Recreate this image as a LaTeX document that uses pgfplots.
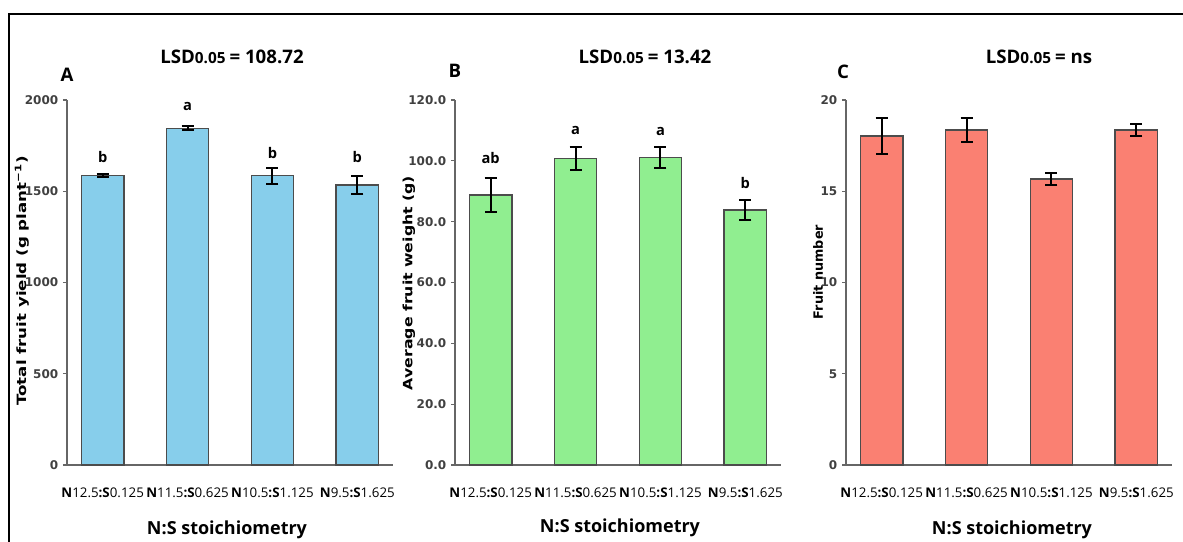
\documentclass[border=0pt]{standalone}
\usepackage{pgfplots}
\usepackage{pgfplotstable}
\pgfplotsset{compat=1.18}
\usepackage{fontspec}
\setmainfont{Open Sans}
\newfontfamily\dejavu{DejaVu Sans}
\definecolor{cA}{RGB}{135,206,235}
\definecolor{cB}{RGB}{144,238,144}
\definecolor{cC}{RGB}{250,128,114}

\pgfplotstableread{
x y e
0 1585 8
1 1845 10
2 1585 43
3 1534 50
}\dataA
\pgfplotstableread{
x y e
0 88.8 5.6
1 100.8 3.9
2 101.1 3.4
3 83.8 3.4
}\dataB
\pgfplotstableread{
x y e
0 18.03 1.0
1 18.36 0.67
2 15.67 0.35
3 18.36 0.35
}\dataC

\newcommand{\NS}[2]{\textbf{N}#1\textbf{:S}#2}
\pgfplotsset{panel/.style={
  scale only axis, width=244.5pt, height=273.75pt, anchor=south west,
  xmin=-0.42, xmax=3.42, ymin=0, clip=false,
  axis lines*=left,
  axis line style={draw=black!60, line width=1.3pt},
  ybar, bar width=0.5,
  xtick={0,1,2,3},
  xticklabels={\NS{12.5}{0.125}, \NS{11.5}{0.625}, \NS{10.5}{1.125}, \NS{9.5}{1.625}},
  xticklabel style={font=\fontsize{10}{12}\selectfont, anchor=base, yshift=-21pt},
  tick align=outside, major tick length=3pt,
  x tick style={draw=black!60, line width=0.8pt, yshift=3pt},
  y tick style={draw=black!60, line width=0.8pt},
  yticklabel style={font=\dejavu\bfseries\fontsize{9}{10}\selectfont, text=black!75},
  /pgf/number format/assume math mode=true,
  /pgf/number format/1000 sep={},
}}
\pgfplotsset{barst/.style={fill=#1, draw=black!70, line width=1pt,
  error bars/.cd, y dir=both, y explicit,
  error bar style={line width=1.5pt, black},
  error mark options={rotate=90, mark size=4.5pt, line width=1.5pt, black}}}
\newcommand{\ttl}[1]{{\bfseries\fontsize{14}{16}\selectfont LSD\fontsize{11.5}{13}\selectfont0.05 \fontsize{14}{16}\selectfont= #1}}

\begin{document}
\begin{tikzpicture}
\begin{scope}[x=0.75pt, y=-0.75pt]
\path[use as bounding box] (0,0) rectangle (1183,542);
\draw[line width=1.5pt] (9,542) -- (9,14) -- (1183,14);
\coordinate (PA) at (67,465);
\coordinate (PB) at (455,465);
\coordinate (PC) at (846,465);
% titles
\node at (232,57) {\ttl{108.72}};
\node at (645,57) {\ttl{13.42}};
\node at (1039,57) {\ttl{ns}};
% panel letters
\node[font=\bfseries\fontsize{14}{16}\selectfont] at (67,75) {A};
\node[font=\bfseries\fontsize{14}{16}\selectfont] at (455,71) {B};
\node[font=\bfseries\fontsize{14}{16}\selectfont] at (843,72) {C};
% y labels
\node[rotate=90, font=\dejavu\bfseries\fontsize{9.6}{11}\selectfont] at (22,281) {\scalebox{1.3}[1]{Total fruit yield (g plant\textsuperscript{−1})}};
\node[rotate=90, font=\dejavu\bfseries\fontsize{9.6}{11}\selectfont] at (409,283) {\scalebox{1.23}[1]{Average fruit weight (g)}};
\node[rotate=90, font=\dejavu\bfseries\fontsize{9.6}{11}\selectfont] at (818,272) {Fruit number};
% x labels
\node[font=\bfseries\fontsize{13.5}{15}\selectfont] at (227,530) {N:S stoichiometry};
\node[font=\bfseries\fontsize{13.5}{15}\selectfont] at (620,528) {N:S stoichiometry};
\node[font=\bfseries\fontsize{13.5}{15}\selectfont] at (1012,530) {N:S stoichiometry};
\end{scope}

\begin{axis}[panel, at={(PA)}, ymax=2000, ytick={0,500,...,2000}]
\addplot[barst=cA] table[x=x, y=y, y error=e] {\dataA};
\node[font=\bfseries\fontsize{11}{13}\selectfont] at (axis cs:0,1688) {b};
\node[font=\bfseries\fontsize{11}{13}\selectfont] at (axis cs:1,1962) {a};
\node[font=\bfseries\fontsize{11}{13}\selectfont] at (axis cs:2,1710) {b};
\node[font=\bfseries\fontsize{11}{13}\selectfont] at (axis cs:3,1688) {b};
\end{axis}

\begin{axis}[panel, at={(PB)}, ymax=120, ytick={0,20,...,120},
  yticklabel style={/pgf/number format/.cd, fixed, fixed zerofill, precision=1}]
\addplot[barst=cB] table[x=x, y=y, y error=e] {\dataB};
\node[font=\bfseries\fontsize{11}{13}\selectfont] at (axis cs:0,100.9) {ab};
\node[font=\bfseries\fontsize{11}{13}\selectfont] at (axis cs:1,110.1) {a};
\node[font=\bfseries\fontsize{11}{13}\selectfont] at (axis cs:2,109.5) {a};
\node[font=\bfseries\fontsize{11}{13}\selectfont] at (axis cs:3,92.7) {b};
\end{axis}

\begin{axis}[panel, at={(PC)}, ymax=20, ytick={0,5,...,20}]
\addplot[barst=cC] table[x=x, y=y, y error=e] {\dataC};
\end{axis}
\end{tikzpicture}
\end{document}
